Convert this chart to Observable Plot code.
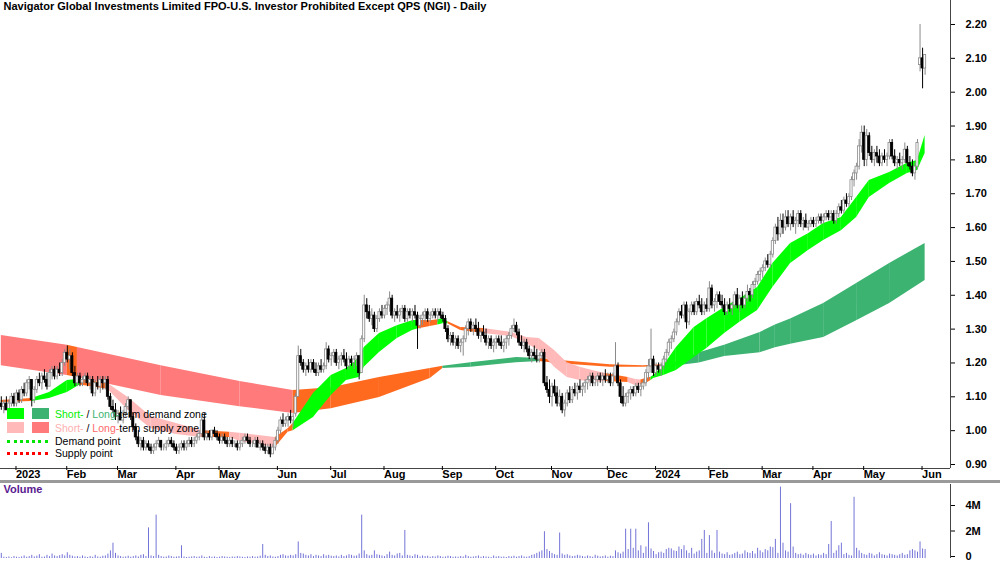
<!DOCTYPE html>
<html><head><meta charset="utf-8">
<script src="https://cdn.jsdelivr.net/npm/d3@7"></script>
<script src="https://cdn.jsdelivr.net/npm/@observablehq/plot@0.6"></script>
<style>
body{margin:0;background:#fff;}
#chart{position:relative;width:1000px;height:562px;overflow:hidden;font-family:"Liberation Sans",Arial,sans-serif;}
#p{position:absolute;left:0;top:0;}
#sep{position:absolute;left:0;top:480px;width:1000px;height:3px;background:#9a9a9a;}
#v{position:absolute;left:0;top:484px;}
#legend{position:absolute;left:0;top:0;font-size:10.5px;color:#000;}
.box{position:absolute;width:17px;height:11px;}
.lt{position:absolute;left:55px;white-space:nowrap;line-height:12px;}
.dot{position:absolute;left:7px;width:41px;height:0;border-top:3px dotted;}
</style></head><body>
<div id="chart"><div id="p"></div><div id="sep"></div><div id="v"></div><div id="legend"></div></div>
<script>
// ---------- DATA (prices in cents, volume in 10k shares) ----------
const title = "Navigator Global Investments Limited FPO-U.S. Investor Prohibited Except QPS (NGI) - Daily";
const monthIdx = [5,25,45,68,85,108,129,150,173,194,216,238,257,278,299,319,339,362];
const monthLabels = ["2023","Feb","Mar","Apr","May","Jun","Jul","Aug","Sep","Oct","Nov","Dec","2024","Feb","Mar","Apr","May","Jun"];
const priceTicks = [0.9,1.0,1.1,1.2,1.3,1.4,1.5,1.6,1.7,1.8,1.9,2.0,2.1,2.2];
const volTicks = [0,2e6,4e6];
const volTickLabels = ["0","2M","4M"];

const openC = [
108,107,108,106,108,110,108,111,109,112, 111,114,115,109,112,115,114,116,115,113,
117,118,116,118,117,120,123,121,122,117, 114,116,114,115,116,114,115,111,114,113,
115,114,115,110,107,106,104,105,103,105, 107,109,104,101,98,96,97,95,96,95,
94,95,96,97,95,95,96,97,96,95, 94,95,96,95,96,97,96,97,98,99,
103,98,99,98,100,99,98,97,98,97, 96,97,96,96,95,96,97,98,97,96,
96,97,95,96,95,94,95,93,95,97, 100,103,102,103,104,103,105,110,122,120,
118,119,118,120,118,117,119,118,119,124, 121,122,123,120,121,122,121,119,121,120,
121,122,117,127,137,135,133,134,130,133, 135,134,136,137,139,134,135,134,135,136,
133,135,134,135,134,131,133,134,135,133, 134,135,134,135,134,133,130,127,128,126,
127,125,126,127,130,132,130,131,130,128, 129,128,126,127,125,126,127,126,125,126,
127,128,130,131,129,126,125,126,124,122, 123,122,121,122,123,114,112,110,113,111,
108,110,106,108,111,109,112,111,113,112, 113,114,115,116,114,115,116,115,116,115,
116,114,116,119,114,110,108,110,111,112, 111,113,112,113,114,117,119,121,117,119,
118,119,121,123,126,127,129,132,135,134, 137,132,135,137,135,138,137,135,137,136,
142,137,138,140,138,137,135,137,136,137, 140,137,139,137,139,141,140,143,144,146,
147,148,150,149,152,156,160,158,162,160, 163,161,163,161,162,164,161,162,160,161,
162,161,162,163,162,163,164,163,164,162, 164,166,165,168,167,169,174,176,178,184,
188,180,187,182,180,182,181,179,181,180, 181,185,181,179,180,179,180,183,179,178,
176,178,208,210,207];
const highC = [
110,109,110,109,111,111,112,112,113,114, 115,116,115,113,116,117,117,118,117,118,
119,119,119,120,121,124,125,124,123,119, 117,117,116,117,117,116,116,115,116,116,
116,116,116,111,109,108,106,107,106,108, 110,109,105,102,100,98,98,97,97,96,
96,97,98,97,96,97,98,98,97,96, 96,97,97,97,98,98,98,99,100,104,
105,100,100,100,101,100,99,99,99,98, 98,98,97,97,97,98,99,99,98,97,
98,98,97,97,96,96,96,96,98,101, 104,105,104,105,106,105,111,125,124,121,
120,121,121,121,120,120,121,120,126,125, 123,124,124,122,123,124,123,122,122,122,
123,122,128,140,139,137,136,135,134,136, 137,137,138,141,140,136,137,136,137,137,
136,136,136,137,135,134,135,136,136,135, 136,136,136,136,135,134,131,129,129,128,
128,127,128,131,133,133,132,133,132,130, 131,130,128,128,127,128,128,128,127,128,
129,131,133,132,130,128,127,127,125,124, 125,124,123,124,124,116,115,114,115,113,
112,111,109,112,113,113,114,114,115,114, 115,116,117,117,116,117,117,117,118,117,
117,117,126,120,115,113,111,112,113,113, 114,114,114,115,118,121,130,122,120,120,
120,122,124,127,128,130,133,136,137,138, 138,136,138,138,139,140,139,138,139,144,
143,139,141,141,140,139,138,139,138,141, 142,140,141,140,143,142,144,145,147,148,
149,151,152,153,157,161,163,164,164,165, 165,164,165,163,165,165,163,164,162,163,
163,163,164,164,164,165,165,165,165,165, 167,168,169,170,170,175,177,179,186,190,
190,189,188,184,183,184,183,182,183,182, 186,186,183,181,182,181,185,184,181,180,
179,186,220,213,211];
const lowC = [
106,105,106,105,107,107,107,108,108,110, 110,112,107,108,111,113,112,114,112,113,
115,115,115,116,116,119,120,118,116,113, 113,113,113,114,113,112,110,110,112,111,
112,112,109,106,105,103,102,103,102,104, 106,103,100,97,95,94,94,94,94,93,
93,94,95,94,94,94,95,95,94,93, 93,94,94,94,95,95,95,96,97,98,
97,97,97,97,98,97,96,96,96,95, 95,95,95,94,94,95,96,96,95,95,
95,95,94,94,93,93,92,93,94,96, 99,101,101,101,102,101,104,110,119,117,
116,117,117,117,116,116,117,117,118,120, 119,120,119,118,119,120,118,118,119,118,
119,115,117,126,133,132,131,129,129,132, 133,133,134,135,133,132,133,132,133,132,
132,133,132,133,124,130,131,132,132,132, 133,133,132,133,132,129,126,125,125,124,
124,123,122,126,128,129,128,129,127,126, 127,125,124,124,123,124,125,124,123,124,
125,127,129,128,125,124,123,123,121,120, 121,120,120,121,113,111,108,107,110,107,
107,105,104,107,108,108,110,109,111,110, 111,112,113,113,113,113,114,113,114,114,
113,113,115,113,108,107,107,108,109,110, 110,111,110,112,113,115,117,116,116,117,
116,118,120,122,124,126,128,131,133,133, 130,131,134,134,134,136,134,134,135,135,
136,135,136,137,136,134,134,135,134,136, 136,135,136,136,138,138,139,142,143,144,
145,147,148,148,151,155,156,157,158,159, 160,159,160,158,160,160,159,160,159,160,
160,160,161,161,161,162,162,162,161,161, 163,164,164,166,166,168,172,174,177,182,
178,178,181,179,178,179,178,178,179,178, 180,180,178,177,178,177,179,178,177,175,
174,177,206,201,205];
const closeC = [
107,108,106,108,110,108,111,109,112,111, 114,115,109,112,115,114,116,115,113,117,
118,116,118,117,120,123,121,122,117,114, 116,114,115,116,114,115,111,114,113,115,
114,115,110,107,106,104,105,103,105,107, 109,104,101,98,96,97,95,96,95,94,
95,96,97,95,95,96,97,96,95,94, 95,96,95,96,97,96,97,98,99,103,
98,99,98,100,99,98,97,98,97,96, 97,96,96,95,96,97,98,97,96,96,
97,95,96,95,94,95,93,95,97,100, 103,102,103,104,103,104,110,122,120,118,
119,118,120,118,117,119,118,119,124,121, 122,123,120,121,122,121,119,121,120,121,
122,117,127,137,135,133,134,130,133,135, 134,136,137,139,134,135,134,135,136,133,
135,134,135,134,131,133,134,135,133,134, 135,134,135,134,133,130,127,128,126,127,
125,126,127,130,132,130,131,130,128,129, 128,126,127,125,126,127,126,125,126,127,
128,130,131,129,126,125,126,124,122,123, 122,121,122,123,114,112,110,113,111,108,
110,106,108,111,109,112,111,113,112,113, 114,115,116,114,115,116,115,116,115,116,
114,116,119,114,110,108,110,111,112,111, 113,112,113,114,117,119,121,117,119,118,
119,121,123,126,127,129,132,135,134,137, 132,135,137,135,138,137,135,137,136,142,
137,138,140,138,137,135,137,136,137,140, 137,139,137,139,141,140,143,144,146,147,
148,150,149,152,156,160,158,162,160,163, 161,163,161,162,164,161,162,160,161,162,
161,162,163,162,163,164,163,164,162,164, 166,165,168,167,169,174,176,178,184,188,
180,187,182,180,182,181,179,181,180,181, 185,181,179,180,179,180,183,179,178,176,
178,185,210,207,211];
const volume10k = [
40,10,8,12,6,15,10,8,12,20, 10,15,25,12,18,30,10,12,25,14,
35,20,15,22,30,20,45,25,18,12, 15,10,20,12,8,15,10,25,12,10,
18,20,35,60,120,40,20,15,10,12, 18,10,15,20,12,25,30,15,240,20,
15,340,25,15,10,12,20,15,10,12, 15,100,12,8,10,12,15,10,12,20,
10,8,15,10,12,8,10,15,12,10, 8,12,10,15,12,10,8,12,10,15,
10,12,18,110,25,15,20,12,10,15, 25,30,20,18,25,20,30,130,40,35,
25,20,30,15,25,20,15,30,20,25, 18,15,20,12,25,15,20,30,25,18,
20,35,340,60,30,20,25,60,30,25, 20,15,30,50,25,20,35,40,20,220,
25,20,15,30,25,12,20,15,18,10, 15,12,20,15,10,12,18,15,10,12,
10,15,12,25,15,10,12,15,20,10, 15,12,10,8,20,12,15,10,12,8,
15,12,18,10,15,20,12,10,15,25, 30,40,50,60,210,70,55,40,30,25,
200,35,25,30,20,15,18,25,20,15, 12,20,15,10,25,18,12,15,20,10,
18,15,60,45,35,50,230,70,230,80, 230,60,100,40,90,280,75,55,30,45,
50,40,70,80,75,60,55,90,70,100, 60,40,80,35,50,60,150,220,40,180,
60,40,220,50,35,30,45,25,30,40, 50,30,35,60,45,40,55,35,80,60,
45,70,60,90,85,150,40,560,120,60, 50,430,90,40,30,35,25,40,30,25,
35,20,30,25,40,30,110,290,40,60, 100,120,30,40,25,20,480,80,60,40,
30,25,40,35,20,30,45,30,25,20, 35,30,25,20,30,40,25,30,60,70,
60,50,130,75,70];

// Zone bands: trading-day index, upper and lower edge, zone of the following segment
const longIdx  = [0,26,30,63,94,115,130,149,169,174,185,203,212,220,240,253,260,265,275,285,299,305,311,324,337,350,364];
const longTop  = [1.281,1.252,1.246,1.192,1.145,1.119,1.127,1.157,1.184,1.190,1.201,1.216,1.213,1.207,1.195,1.192,1.195,1.198,1.230,1.252,1.290,1.312,1.330,1.376,1.435,1.494,1.553];
const longBot  = [1.192,1.163,1.157,1.104,1.071,1.051,1.065,1.098,1.154,1.184,1.187,1.201,1.204,1.198,1.187,1.187,1.190,1.190,1.200,1.219,1.230,1.245,1.255,1.275,1.325,1.376,1.444];
const longZone = ["LS","N","LS","LS","LS","N","N","N","N","LD","LD","LD","N","N","N","N","LD","LD","LD","LD","LD","LD","LD","LD","LD","LD","LD"];

const shortIdx  = [0,12,19,26,31,42,50,59,69,79,90,94,108,113,115,123,130,136,141,143,149,156,162,164,169,172,174,176,181,190,201,207,212,218,223,228,233,238,247,250,252,254,256,257,261,266,273,278,285,291,298,304,311,318,324,331,337,342,350,357,361,364];
const shortTop  = [1.089,1.095,1.113,1.148,1.152,1.139,1.098,1.042,1.021,1.000,0.995,0.992,0.980,1.006,1.021,1.110,1.163,1.184,1.216,1.246,1.287,1.310,1.325,1.326,1.325,1.328,1.331,1.322,1.305,1.302,1.290,1.275,1.272,1.237,1.201,1.187,1.178,1.169,1.157,1.151,1.150,1.154,1.158,1.163,1.192,1.246,1.305,1.331,1.364,1.390,1.423,1.494,1.553,1.582,1.612,1.630,1.689,1.739,1.763,1.790,1.798,1.872];
const shortBot  = [1.083,1.086,1.095,1.113,1.135,1.122,1.060,1.006,0.989,0.980,0.980,0.968,0.950,0.995,1.000,1.039,1.104,1.148,1.157,1.187,1.231,1.272,1.296,1.300,1.308,1.312,1.316,1.316,1.296,1.287,1.278,1.257,1.237,1.187,1.157,1.148,1.142,1.145,1.142,1.133,1.135,1.139,1.148,1.154,1.163,1.178,1.216,1.243,1.287,1.320,1.355,1.423,1.494,1.532,1.562,1.591,1.630,1.689,1.730,1.760,1.769,1.819];
const shortZone = ["N","SD","SD","SD","N","SS","SS","SS","SS","N","SS","SS","N","N","SD","SD","SD","SD","SD","SD","SD","SD","SD","N","N","SD","SD","N","N","SS","SS","SS","SS","SS","SS","SS","SS","N","SS","SS","N","N","SD","SD","SD","SD","SD","SD","SD","SD","SD","SD","SD","SD","SD","SD","SD","SD","SD","SD","SD","SD"];

const zoneColor = {SD:"#00ff00", LD:"#3cb371", SS:"#ffb9b9", LS:"#ff7a7a", N:"#ff6a1f"};

// ---------- BUILD ----------
const candles = openC.map((o,i)=>({i, open:o/100, high:highC[i]/100, low:lowC[i]/100, close:closeC[i]/100, up: closeC[i] >= o}));
const vols = volume10k.map((v,i)=>({i, v:v*1e4}));
function bandRows(idx, top, bot, zone){
  const rows=[];
  for(let k=0;k<idx.length-1;k++){
    for(const j of [k,k+1]) rows.push({seg:k, i:idx[j], top:top[j], bot:bot[j], color:zoneColor[zone[k]]});
  }
  return rows;
}
const longRows = bandRows(longIdx,longTop,longBot,longZone);
const shortRows = bandRows(shortIdx,shortTop,shortBot,shortZone);

const xDom = [-0.315, 374.0];
const yDom = [0.8882, 2.2709];
const font = "'Liberation Sans', Arial, sans-serif";

const price = Plot.plot({
  width:1000, height:482, marginLeft:0, marginRight:50, marginTop:0, marginBottom:14,
  x:{domain:xDom, label:null}, y:{domain:yDom, label:null}, color:{type:"identity"},
  style:{fontFamily:font, fontWeight:"bold", fontSize:"11px", background:"transparent"},
  marks:[
    Plot.areaY(longRows,{x:"i", y1:"bot", y2:"top", z:"seg", fill:"color"}),
    Plot.areaY(shortRows,{x:"i", y1:"bot", y2:"top", z:"seg", fill:"color"}),
    Plot.ruleX(candles,{x:"i", y1:"low", y2:"high", stroke:d=>d.up?"#8a8a8a":"#000", strokeWidth:1}),
    Plot.rect(candles,{x1:d=>d.i-0.42, x2:d=>d.i+0.42, y1:"open", y2:"close", fill:d=>d.up?"#fff":"#000", stroke:d=>d.up?"#8a8a8a":"#000", strokeWidth:0.8}),
    Plot.ruleY([yDom[0]],{stroke:"#444"}),
    Plot.ruleX([xDom[1]],{stroke:"#444"}),
    Plot.axisY({anchor:"right", label:null, ticks:priceTicks, tickFormat:d3.format(".2f"), tickSize:4, tickPadding:11, fontSize:11}),
    Plot.axisX({label:null, ticks:monthIdx, tickFormat:d=>monthLabels[monthIdx.indexOf(d)], tickSize:4, tickPadding:0, textAnchor:"start", dx:2, dy:-2, fontSize:11}),
    Plot.text([title],{frameAnchor:"top-left", dx:3, dy:2, lineAnchor:"top", textAnchor:"start", fontSize:11, fill:"#000"})
  ]
});
document.getElementById("p").appendChild(price);

const vol = Plot.plot({
  width:1000, height:78, marginLeft:0, marginRight:50, marginTop:0, marginBottom:4,
  x:{domain:xDom, axis:null, label:null}, y:{domain:[0,5.804e6], label:null},
  style:{fontFamily:font, fontWeight:"bold", fontSize:"11px", background:"transparent"},
  marks:[
    Plot.ruleX(vols,{x:"i", y1:0, y2:"v", stroke:"#7474d8", strokeWidth:1}),
    Plot.ruleX([xDom[1]],{stroke:"#444"}),
    Plot.axisY({anchor:"right", label:null, ticks:volTicks, tickFormat:d=>volTickLabels[volTicks.indexOf(d)], tickSize:4, tickPadding:11, dy:-2, fontSize:11}),
    Plot.text(["Volume"],{frameAnchor:"top-left", dx:3, dy:1, lineAnchor:"top", textAnchor:"start", fontSize:11, fill:"#5a1a91"})
  ]
});
document.getElementById("v").appendChild(vol);

// legend
const lg = document.getElementById("legend");
lg.innerHTML = `
<div class="box" style="left:7px;top:408px;background:#00ff00"></div>
<div class="box" style="left:32px;top:408px;background:#3cb371"></div>
<div class="lt" style="top:408px"><span style="color:#00ee00">Short-</span> / <span style="color:#3cb371">Long-</span>term demand zone</div>
<div class="box" style="left:7px;top:422px;background:#ffb9b9"></div>
<div class="box" style="left:32px;top:422px;background:#ff7a7a"></div>
<div class="lt" style="top:422px"><span style="color:#ffb0b0">Short-</span> / <span style="color:#ff6a6a">Long-</span>term supply zone</div>
<div class="dot" style="top:440px;border-color:#00e600"></div>
<div class="lt" style="top:435px">Demand point</div>
<div class="dot" style="top:452px;border-color:#ff0000"></div>
<div class="lt" style="top:447px">Supply point</div>`;
</script></body></html>
